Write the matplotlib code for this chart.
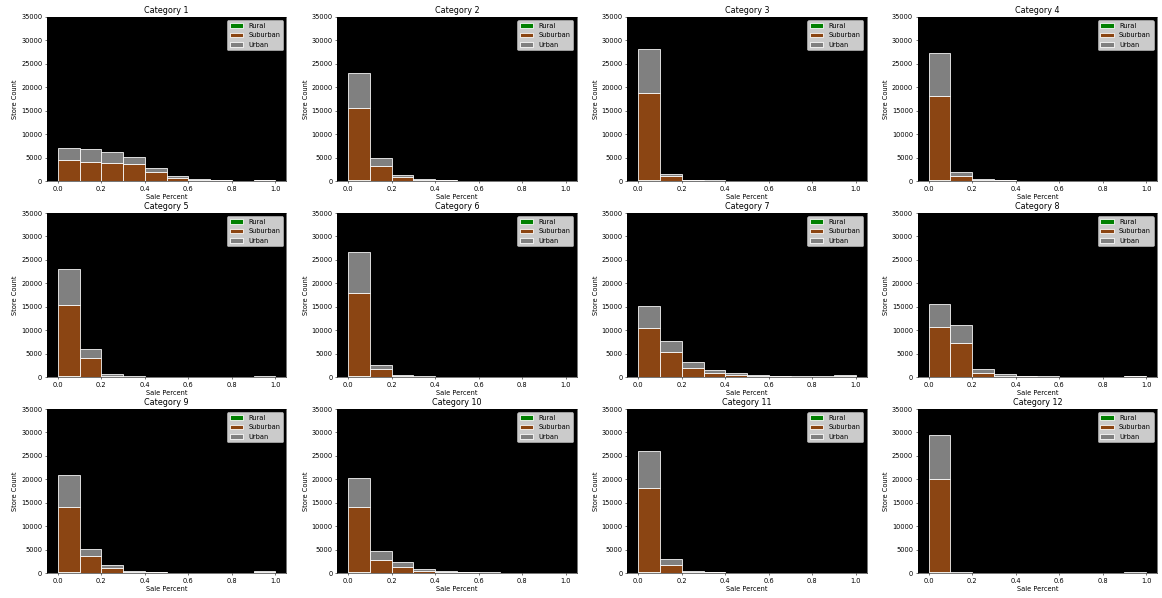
import matplotlib
matplotlib.use('Agg')
import matplotlib.pyplot as plt
import numpy as np

# Histogram bins: 10 equal-width bins of sale percent
bin_edges = np.linspace(0.0, 1.0, 11)
bin_centers = (bin_edges[:-1] + bin_edges[1:]) / 2

categories = [f'Category {i}' for i in range(1, 13)]
regions = ['Rural', 'Suburban', 'Urban']
region_colors = ['green', 'saddlebrown', 'gray']

# Store counts per bin, one list per category
rural_counts = [
    [90, 80, 70, 60, 40, 20, 10, 5, 2, 5],
    [150, 40, 15, 5, 3, 1, 1, 0, 0, 1],
    [180, 15, 5, 2, 1, 0, 0, 0, 0, 0],
    [170, 20, 5, 3, 1, 0, 0, 0, 0, 0],
    [150, 40, 5, 2, 0, 0, 0, 0, 0, 2],
    [170, 20, 3, 2, 0, 0, 0, 0, 0, 0],
    [100, 60, 25, 10, 5, 3, 2, 1, 1, 3],
    [100, 80, 10, 4, 2, 1, 1, 1, 0, 2],
    [140, 40, 10, 3, 2, 1, 1, 1, 1, 4],
    [140, 30, 15, 6, 3, 2, 1, 1, 1, 1],
    [170, 20, 4, 2, 0, 0, 0, 0, 0, 0],
    [190, 2, 0, 0, 0, 0, 0, 0, 0, 1],
]
suburban_counts = [
    [4460, 4050, 3770, 3500, 1880, 690, 270, 145, 48, 145],
    [15500, 3090, 835, 195, 117, 30, 20, 10, 10, 19],
    [18620, 985, 145, 60, 30, 10, 5, 5, 5, 5],
    [18030, 1050, 195, 117, 20, 10, 5, 5, 5, 5],
    [15130, 4050, 285, 78, 20, 10, 5, 5, 5, 98],
    [17760, 1780, 197, 78, 20, 10, 5, 5, 5, 5],
    [10300, 5250, 1845, 920, 495, 247, 148, 90, 89, 197],
    [10520, 7240, 850, 286, 148, 89, 59, 49, 40, 148],
    [13920, 3550, 990, 217, 118, 49, 39, 39, 39, 296],
    [13990, 2700, 1275, 494, 287, 148, 79, 59, 49, 49],
    [17910, 1700, 286, 118, 20, 10, 5, 5, 5, 5],
    [19820, 80, 15, 10, 10, 10, 10, 10, 10, 80],
]
urban_counts = [
    [2500, 2620, 2280, 1630, 780, 290, 220, 130, 30, 130],
    [7350, 1720, 430, 150, 80, 20, 10, 10, 5, 10],
    [9300, 400, 130, 40, 20, 5, 5, 5, 5, 5],
    [9100, 780, 150, 100, 30, 5, 5, 5, 5, 5],
    [7670, 1860, 360, 60, 20, 5, 5, 5, 5, 100],
    [8770, 850, 230, 60, 20, 5, 5, 5, 5, 5],
    [4800, 2370, 1290, 650, 430, 180, 140, 60, 60, 160],
    [4950, 3730, 790, 280, 140, 60, 40, 30, 20, 100],
    [6820, 1570, 720, 210, 100, 30, 20, 20, 20, 200],
    [6170, 1930, 1010, 430, 210, 140, 60, 40, 30, 20],
    [7890, 1290, 210, 100, 20, 5, 5, 5, 5, 5],
    [9470, 60, 15, 10, 10, 10, 10, 10, 10, 60],
]

# large canvas at low dpi so default font sizes come out small
fig, axes = plt.subplots(3, 4, figsize=(24.21, 12.46), dpi=48)
fig.subplots_adjust(left=0.0404, right=0.9957, top=0.9716, bottom=0.0418,
                    wspace=0.2125, hspace=0.195)

for idx, ax in enumerate(axes.flat):
    counts = [rural_counts[idx], suburban_counts[idx], urban_counts[idx]]
    ax.hist([bin_centers] * 3, bins=bin_edges, weights=counts, stacked=True,
            color=region_colors, edgecolor='white', linewidth=1.2,
            label=regions)
    ax.set_facecolor('black')
    ax.set_ylim(0, 35000)
    ax.set_yticks(np.arange(0, 35001, 5000))
    ax.set_xticks([0.0, 0.2, 0.4, 0.6, 0.8, 1.0])
    ax.set_title(categories[idx])
    ax.set_xlabel('Sale Percent')
    ax.set_ylabel('Store Count')
    ax.legend(loc='upper right')

plt.savefig('out.png', dpi=48)
